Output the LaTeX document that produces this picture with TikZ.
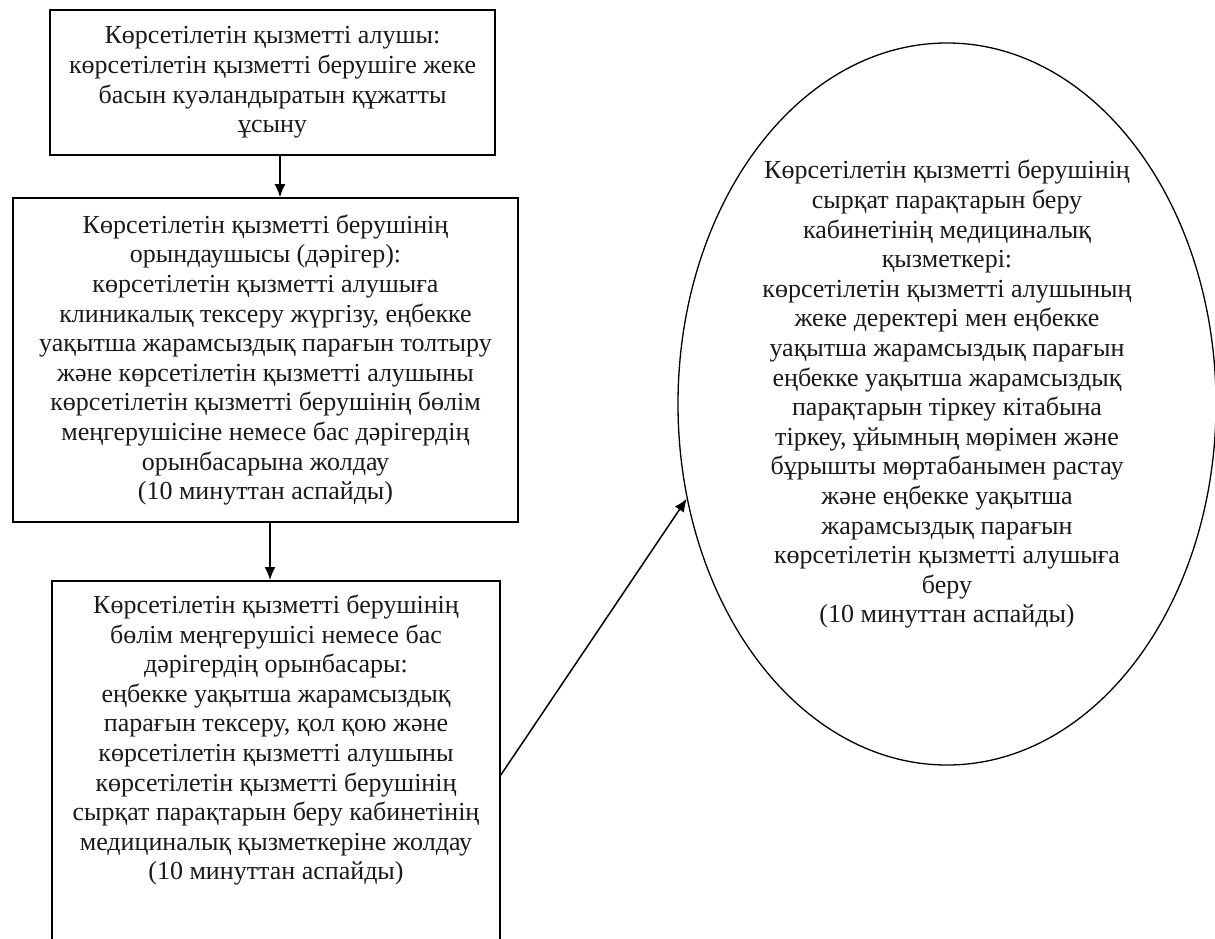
\documentclass[tikz,border=0pt]{standalone}
\usepackage{fontspec}
\setmainfont{Liberation Serif}
\usetikzlibrary{arrows.meta,shapes.geometric}
\begin{document}
\begin{tikzpicture}[x=1pt,y=-1pt,
  txt/.style={align=center,font=\fontsize{26}{29.6}\selectfont,text=black!90},
  stepbox/.style={txt,draw,line width=1.6pt,rectangle,inner sep=0pt},
  arr/.style={line width=1.5pt,-{Latex[length=13pt,width=11pt]}}]
\useasboundingbox (0,0) rectangle (1215,939);
\node[stepbox,minimum width=445,minimum height=145] (box1) at (272.5,82.5)
{Көрсетілетін қызметті алушы:\\көрсетілетін қызметті берушіге жеке\\басын куәландыратын құжатты\\ұсыну};
\node[stepbox,minimum width=505,minimum height=324] (box2) at (265.5,360)
{Көрсетілетін қызметті берушінің\\орындаушысы (дәрігер):\\көрсетілетін қызметті алушыға\\клиникалық тексеру жүргізу, еңбекке\\уақытша жарамсыздық парағын толтыру\\және көрсетілетін қызметті алушыны\\көрсетілетін қызметті берушінің бөлім\\меңгерушісіне немесе бас дәрігердің\\орынбасарына жолдау\\(10 минуттан аспайды)};
\node[stepbox,minimum width=448,anchor=north,inner ysep=14pt,text depth=360pt] (box3) at (276,580)
{Көрсетілетін қызметті берушінің\\бөлім меңгерушісі немесе бас\\дәрігердің орынбасары:\\еңбекке уақытша жарамсыздық\\парағын тексеру, қол қою және\\көрсетілетін қызметті алушыны\\көрсетілетін қызметті берушінің\\сырқат парақтарын беру кабинетінің\\медициналық қызметкеріне жолдау\\(10 минуттан аспайды)};
\node[txt,draw,ellipse,line width=1.3pt,inner sep=0pt,minimum width=538,minimum height=722] (ell) at (947,404)
{Көрсетілетін қызметті берушінің\\сырқат парақтарын беру\\кабинетінің медициналық\\қызметкері:\\көрсетілетін қызметті алушының\\жеке деректері мен еңбекке\\уақытша жарамсыздық парағын\\еңбекке уақытша жарамсыздық\\парақтарын тіркеу кітабына\\тіркеу, ұйымның мөрімен және\\бұрышты мөртабанымен растау\\және еңбекке уақытша\\жарамсыздық парағын\\көрсетілетін қызметті алушыға\\беру\\(10 минуттан аспайды)\\[-4.6pt]\mbox{}};
\coordinate (c1) at (280,0);
\coordinate (c2) at (270,0);
\coordinate (c3) at (0,775);
\draw[arr] (box1.south -| c1) -- (box2.north -| c1);
\draw[arr] (box2.south -| c2) -- (box3.north -| c2);
\draw[arr] (box3.east |- c3) -- (ell.200.5);
\end{tikzpicture}
\end{document}
